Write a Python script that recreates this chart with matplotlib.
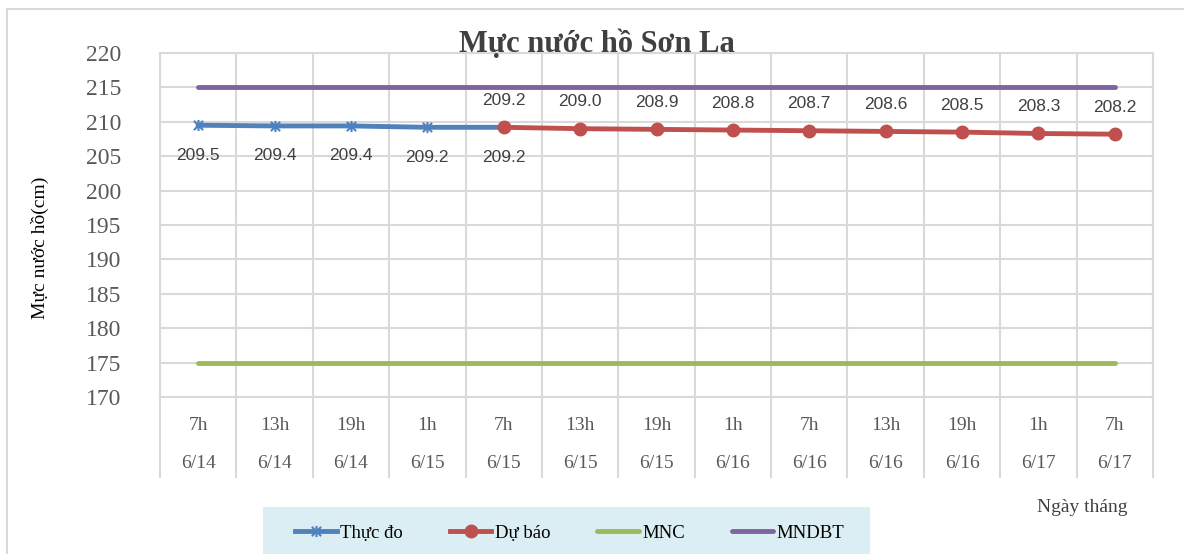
import matplotlib
matplotlib.use('Agg')
import matplotlib.pyplot as plt
import matplotlib.transforms as mtransforms
from matplotlib.patches import Rectangle
from matplotlib.lines import Line2D
from matplotlib.path import Path
import numpy as np

hours = ["7h", "13h", "19h", "1h", "7h", "13h", "19h", "1h", "7h", "13h", "19h", "1h", "7h"]
dates = ["6/14", "6/14", "6/14", "6/15", "6/15", "6/15", "6/15", "6/16", "6/16", "6/16", "6/16", "6/17", "6/17"]
thuc_do = [209.5, 209.4, 209.4, 209.2, 209.2]
du_bao = [209.2, 209.0, 208.9, 208.8, 208.7, 208.6, 208.5, 208.3, 208.2]
mnc = [175] * 13
mndbt = [215] * 13

BLUE = '#4f81bd'
RED = '#c0504d'
GREEN = '#9bbb59'
PURPLE = '#8064a2'
GRID = '#d9d9d9'
TEXT = '#404040'
SERIF = 'Liberation Serif'

# excel-like star marker: x plus vertical bar
star = Path([(-1, -1), (1, 1), (-1, 1), (1, -1), (0, -1.2), (0, 1.2)],
            [Path.MOVETO, Path.LINETO, Path.MOVETO, Path.LINETO, Path.MOVETO, Path.LINETO])

fig = plt.figure(figsize=(11.84, 5.54), dpi=100)
fig.patch.set_facecolor('white')
ax = fig.add_axes([160 / 1184, 1 - 397 / 554, (1153 - 160) / 1184, (397 - 53) / 554])

# outer chart border
fig.patches.append(Rectangle((7 / 1184, -0.1), 1.2, 1 - 9 / 554 + 0.1, transform=fig.transFigure,
                             fill=False, edgecolor=GRID, lw=1.5))

n = len(hours)
x_all = np.arange(n)
x_obs = np.arange(len(thuc_do))
x_fc = np.arange(len(thuc_do) - 1, n)

ax.plot(x_all, mnc, color=GREEN, lw=3.5, solid_capstyle='round', label='MNC', zorder=3)
ax.plot(x_all, mndbt, color=PURPLE, lw=3.5, solid_capstyle='round', label='MNDBT', zorder=3)
ax.plot(x_obs, thuc_do, color=BLUE, lw=3.5, marker=star, markersize=8, mew=1.5,
        mfc='none', mec=BLUE, label='Thực đo', zorder=4)
ax.plot(x_fc, du_bao, color=RED, lw=3.5, marker='o', markersize=9, label='Dự báo', zorder=5)

for xi, v in zip(x_obs, thuc_do):
    ax.annotate(f"{v:.1f}", (xi, v), xytext=(0, -30), textcoords='offset pixels',
                ha='center', va='center', fontsize=12.5, color=TEXT, family='Liberation Sans')
for xi, v in zip(x_fc, du_bao):
    ax.annotate(f"{v:.1f}", (xi, v), xytext=(0, 27), textcoords='offset pixels',
                ha='center', va='center', fontsize=12.5, color=TEXT, family='Liberation Sans')

ax.set_xlim(-0.5, n - 0.5)
ax.set_ylim(170, 220)
ax.set_yticks(np.arange(170, 221, 5))
ax.set_xticks([])
ax.set_xticks(np.arange(-0.5, n, 1), minor=True)
ax.tick_params(axis='x', which='both', length=0, labelbottom=False)
ax.tick_params(axis='y', length=0, pad=28, labelsize=17, labelcolor='#595959')
for lab in ax.get_yticklabels():
    lab.set_family(SERIF)
ax.grid(axis='y', color=GRID, lw=1.5)
ax.grid(axis='x', which='minor', color=GRID, lw=1.5)
for s in ax.spines.values():
    s.set_color(GRID)
    s.set_linewidth(1.5)
ax.set_axisbelow(True)

# category table below axis
trans = mtransforms.blended_transform_factory(ax.transData, ax.transAxes)
bottom = -(477 - 397) / (397 - 53)
for b in np.arange(-0.5, n, 1):
    ax.add_line(Line2D([b, b], [0, bottom], transform=trans, color=GRID, lw=1.5, clip_on=False))
for xi, h, d in zip(x_all, hours, dates):
    ax.text(xi, -(425 - 397) / 344, h, transform=trans, ha='center', va='center',
            fontsize=14, family=SERIF, color='#595959')
    ax.text(xi, -(464 - 397) / 344, d, transform=trans, ha='center', va='center',
            fontsize=14, family=SERIF, color='#595959')

fig.text(597 / 1184, 1 - 44 / 554, "Mực nước hồ Sơn La", ha='center', va='center',
         fontsize=22, fontweight='bold', family=SERIF, color=TEXT)
fig.text(40 / 1184, 1 - 248 / 554, "Mực nước hồ(cm)", rotation=90, ha='center', va='center',
         fontsize=14, family=SERIF, color='black')
fig.text(1082 / 1184, 1 - 508 / 554, "Ngày tháng", ha='center', va='center',
         fontsize=14, family=SERIF, color='#404040')

# legend box
fig.patches.append(Rectangle((263 / 1184, 0), (870 - 263) / 1184, 1 - 507 / 554,
                             transform=fig.transFigure, facecolor='#dbeef4', edgecolor='none'))
handles, labels = ax.get_legend_handles_labels()
order = [2, 3, 0, 1]
fig.legend([handles[i] for i in order], [labels[i] for i in order], loc='center',
           bbox_to_anchor=(570 / 1184, 1 - 533 / 554), ncol=4, frameon=False,
           prop={'family': SERIF, 'size': 13.5}, handlelength=2.2, handletextpad=0.2,
           columnspacing=2.5)

fig.savefig('out.png', dpi=100, facecolor='white')
